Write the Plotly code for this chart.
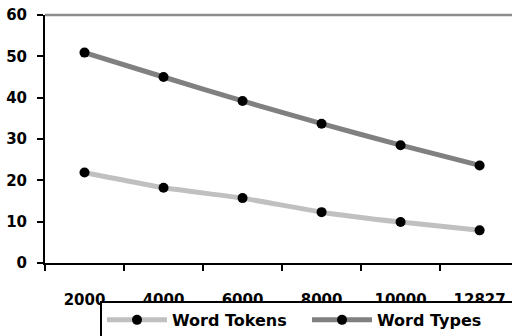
import plotly.graph_objects as go

categories = ["2000", "4000", "6000", "8000", "10000", "12827"]
word_tokens = [21.9, 18.2, 15.7, 12.3, 9.9, 7.9]
word_types = [50.9, 45.0, 39.2, 33.7, 28.5, 23.6]
y_ticks = [0, 10, 20, 30, 40, 50, 60]

FONT = "DejaVu Sans"
fnt = dict(family=FONT, size=15, color="black", weight="bold")
legfnt = dict(family=FONT, size=16, color="black", weight="bold")

fig = go.Figure()
fig.add_trace(go.Scatter(
    x=categories, y=word_tokens, name="Word Tokens", mode="lines+markers",
    line=dict(color="#c0c0c0", width=5, shape="spline", smoothing=0.4),
    marker=dict(color="black", size=10),
))
fig.add_trace(go.Scatter(
    x=categories, y=word_types, name="Word Types", mode="lines+markers",
    line=dict(color="#808080", width=5, shape="spline", smoothing=0.4),
    marker=dict(color="black", size=10),
))

fig.add_shape(type="line", xref="paper", yref="paper", x0=0, x1=1, y0=1, y1=1,
              line=dict(color="#8c8c8c", width=2.5), layer="below")

fig.update_layout(
    width=512, height=336,
    margin=dict(l=45, r=0, t=15, b=73, autoexpand=False),
    paper_bgcolor="white", plot_bgcolor="white",
    font=fnt,
    showlegend=True,
    legend=dict(
        orientation="h", x=0.1178, y=-0.153, xanchor="left", yanchor="top",
        bordercolor="black", borderwidth=2, bgcolor="white",
        font=legfnt, entrywidth=130, itemwidth=60,
    ),
    xaxis=dict(
        type="category", range=[-0.5, 5.41], showgrid=False, zeroline=False,
        showline=True, linecolor="black", linewidth=2,
        ticks="outside", tickson="boundaries", ticklen=6, tickwidth=2, tickcolor="black",
        ticklabelstandoff=22, tickfont=fnt,
    ),
    yaxis=dict(
        range=[0, 60], tickvals=y_ticks, showgrid=False, zeroline=False,
        showline=True, linecolor="black", linewidth=2,
        ticks="outside", ticklen=6, tickwidth=2, tickcolor="black",
        ticklabelstandoff=7, tickfont=fnt,
    ),
)

fig.write_html("out.html", config={"displayModeBar": False},
               post_script="document.body.style.margin='0';")
